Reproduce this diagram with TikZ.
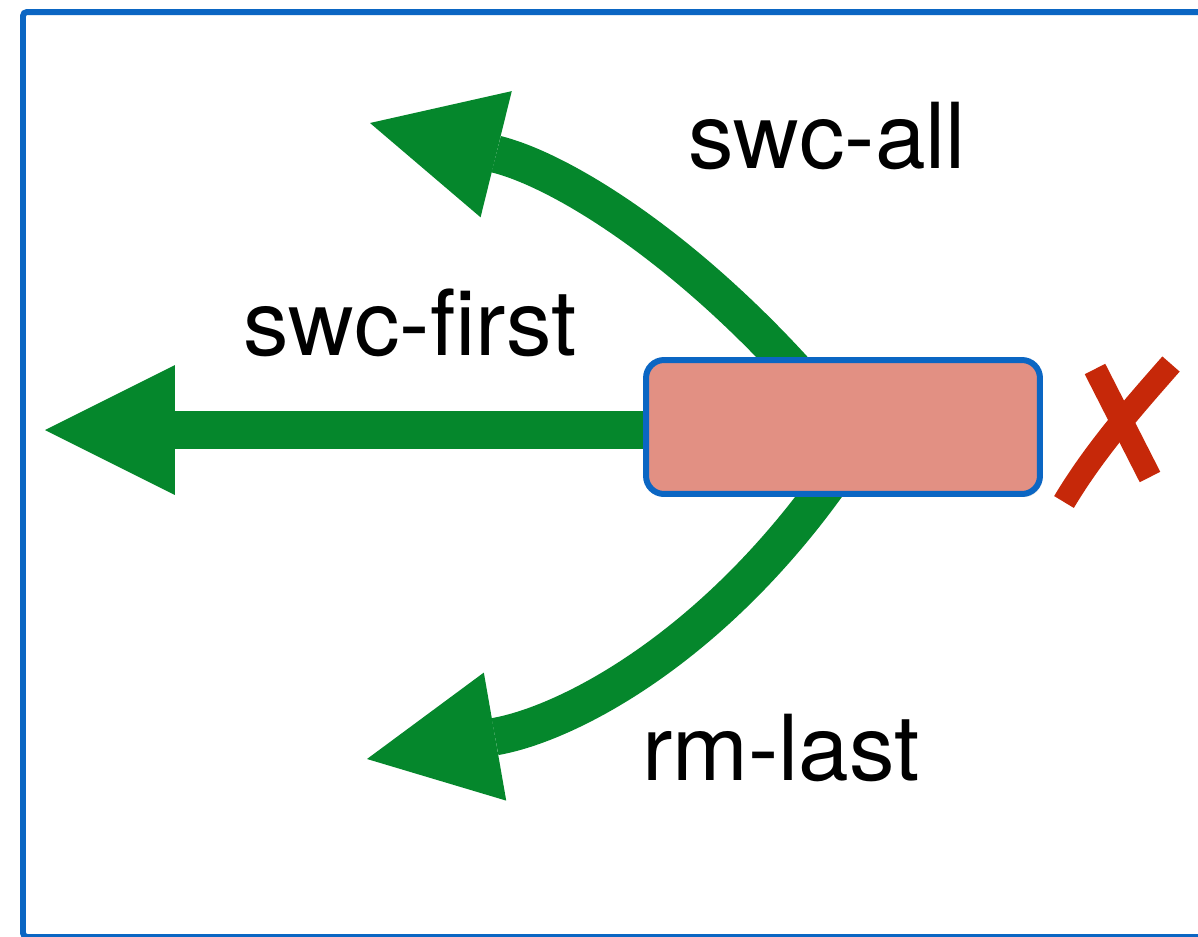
\documentclass[tikz,border=0pt]{standalone}
\usepackage{fontspec}
\setmainfont{TeX Gyre Heros}
\usetikzlibrary{arrows.meta,backgrounds,calc,shadows}
\definecolor{arrowgreen}{HTML}{05872C}
\definecolor{frameblue}{HTML}{0B66C3}
\definecolor{boxfill}{HTML}{E29083}
\definecolor{xred}{HTML}{C62809}
\tikzset{
  biggreen/.style={draw=arrowgreen, line width=0.75cm,
    -{Triangle[length=2.6cm,width=2.6cm,line width=0pt]}, fill=none},
  lab/.style={inner sep=0pt, anchor=base west, font=\fontsize{51.8}{60}\selectfont},
  boxstyle/.style={draw=frameblue, fill=boxfill, line width=0.12cm,
    rounded corners=0.36cm, minimum width=7.88cm, minimum height=2.68cm,
    inner sep=0pt, drop shadow={opacity=0.25, shadow xshift=0.04cm, shadow yshift=-0.06cm}},
  xstroke/.style={draw=xred, line width=0.46cm, line cap=butt},
}
\begin{document}
\begin{tikzpicture}[x=0.02cm, y=-0.02cm]
\useasboundingbox (0,0) rectangle (1198,937);

% central box
\node[boxstyle] (box) at (843,427) {};

% free ends of connectors
\coordinate (tipAll) at (370,123);
\coordinate (tipFirst) at (45,430);
\coordinate (tipLast) at (367,759);

\begin{scope}[on background layer]
\fill[white] (0,0) rectangle (1198,937);
\draw[frameblue, line width=0.12cm, rounded corners=0.08cm] (23,12) rectangle (1240,937);
\coordinate (sAll) at ($(box.north west)!0.405!(box.north east)+(0,25)$);
\coordinate (sLast) at ($(box.south west)!0.47!(box.south east)+(0,-17)$);
\draw[biggreen] (sAll) .. controls (683,245) and (560,170) .. (tipAll);
\draw[biggreen] (box.center |- tipFirst) -- (tipFirst);
\draw[biggreen] (sLast) .. controls (710,650) and (567,724) .. (tipLast);
\end{scope}

% labels
\node[lab] (lAll) at (688,168) {swc-all};
\node[lab] (lFirst) at (243,355) {swc-first};
\node[lab] (lLast) at (642,780) {rm-last};

% red cross
\draw[xstroke] (1095,369) -- (1150,477);
\draw[xstroke] (1171,364) .. controls (1135,405) and (1095,450) .. (1064,502);
\end{tikzpicture}
\end{document}
